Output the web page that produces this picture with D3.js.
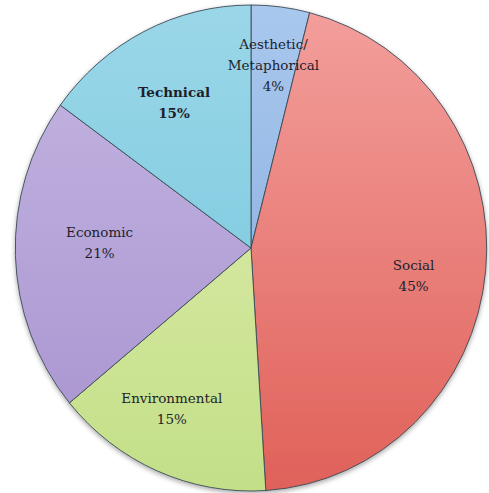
<!DOCTYPE html>
<html>
<head>
<meta charset="utf-8">
<script src="https://cdn.jsdelivr.net/npm/d3@7"></script>
<style>
  html, body { margin: 0; padding: 0; background: #fff; }
  svg { display: block; }
  .lbl { font-family: "DejaVu Serif", serif; }
</style>
</head>
<body>
<svg id="chart" width="489" height="493"></svg>
<script>
// ---- data ----
const categories = ["Aesthetic/\nMetaphorical", "Social", "Environmental", "Economic", "Technical"];
const values = [4, 45, 15, 21, 15];
const boldLabels = [false, false, false, false, true];

// ---- style / layout ----
const lightColors = ["#a9c8ee", "#f39f9c", "#e3efb4", "#c4b7e2", "#9ad7e8"];
const darkColors  = ["#7fa6d9", "#e0615a", "#c3df88", "#a892cf", "#72c4dc"];
const labelRadius = [0.76, 0.68, 0.75, 0.63, 0.72];
const labelShift = [[0, 0], [3, 12], [-9, -7], [-3, -10], [0, 10]];

const width = 489, height = 493;
const cx = 251, cy = 248, R = 243, sx = 0.97;

const svg = d3.select("#chart");
const defs = svg.append("defs");

const shadow = defs.append("filter").attr("id", "shadow")
  .attr("x", "-10%").attr("y", "-10%").attr("width", "120%").attr("height", "120%");
shadow.append("feGaussianBlur").attr("in", "SourceAlpha").attr("stdDeviation", 2.5).attr("result", "b");
shadow.append("feOffset").attr("in", "b").attr("dx", 0).attr("dy", 1.5).attr("result", "o");
shadow.append("feComponentTransfer").attr("in", "o").attr("result", "o2")
  .append("feFuncA").attr("type", "linear").attr("slope", 0.35);
const merge = shadow.append("feMerge");
merge.append("feMergeNode").attr("in", "o2");
merge.append("feMergeNode").attr("in", "SourceGraphic");

categories.forEach((c, i) => {
  const g = defs.append("linearGradient").attr("id", "grad" + i)
    .attr("gradientUnits", "userSpaceOnUse")
    .attr("x1", 0).attr("y1", -R).attr("x2", 0).attr("y2", R);
  g.append("stop").attr("offset", "0%").attr("stop-color", lightColors[i]);
  g.append("stop").attr("offset", "100%").attr("stop-color", darkColors[i]);
});

const pie = d3.pie().sort(null).value(d => d.value);
const data = pie(categories.map((c, i) => ({ name: c, value: values[i], i })));
const arc = d3.arc().innerRadius(0).outerRadius(R);

const g = svg.append("g")
  .attr("transform", `translate(${cx},${cy}) scale(${sx},1)`)
  .attr("filter", "url(#shadow)");

g.selectAll("path.slice").data(data).join("path")
  .attr("class", "slice")
  .attr("d", arc)
  .attr("fill", d => `url(#grad${d.data.i})`)
  .attr("stroke", "#3a4a55")
  .attr("stroke-width", 0.9)
  .attr("vector-effect", "non-scaling-stroke");

const labels = svg.append("g").attr("transform", `translate(${cx},${cy})`);
const lineH = 21;
data.forEach(d => {
  const i = d.data.i;
  const a = (d.startAngle + d.endAngle) / 2;
  const r = R * labelRadius[i];
  const x = Math.sin(a) * r * sx + labelShift[i][0];
  const y = -Math.cos(a) * r + labelShift[i][1];
  const lines = d.data.name.split("\n").concat([d.data.value + "%"]);
  const t = labels.append("text")
    .attr("class", "lbl")
    .attr("text-anchor", "middle")
    .attr("font-size", 13.5)
    .attr("font-weight", boldLabels[i] ? "bold" : "normal")
    .attr("fill", "#1e1e2a");
  const y0 = y - (lines.length - 1) * lineH / 2 + 5;
  lines.forEach((l, k) => {
    t.append("tspan").attr("x", x).attr("y", y0 + k * lineH).text(l);
  });
});
</script>
</body>
</html>
